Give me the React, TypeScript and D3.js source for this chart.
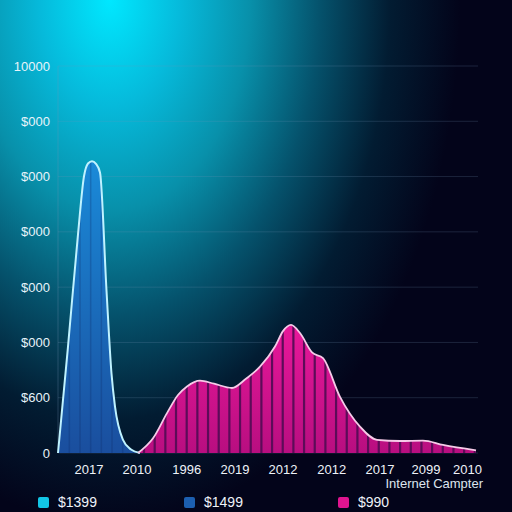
import React from "react";
import * as d3 from "d3";

const W = 512;
const H = 512;

// Series A (blue peak): [x position in axis units, value]
const blueX = [0, 1, 2, 2.6, 3.0, 3.4, 3.8, 4.2, 4.85, 5.35, 5.7, 6.5, 7.3, 8.2];
const blueV = [0, 2750, 5650, 7150, 7480, 7540, 7470, 7250, 4200, 2050, 1200, 340, 90, 0];

// Series B (pink striped area)
const pinkX = [8.0, 9.5, 10.9, 12.0, 12.9, 14.2, 15.6, 17.4, 18.8, 20.2, 21.7, 22.5, 23.3, 24.2, 25.4, 26.5, 28.2, 30.2, 31.9, 34.2, 36.5, 38.5, 41.8];
const pinkV = [0, 380, 1030, 1500, 1720, 1870, 1790, 1680, 1920, 2230, 2750, 3150, 3310, 3100, 2600, 2450, 1450, 680, 340, 310, 320, 210, 70];

// X category labels and their positions in axis units
const xLabels = ["2017", "2010", "1996", "2019", "2012", "2012", "2017", "2099", "2010"];
const xLabelPos = [3.1, 7.9, 12.87, 17.7, 22.5, 27.37, 32.2, 36.8, 40.95];

// Y tick labels (bottom to top)
const yLabels = ["0", "$600", "$000", "$000", "$000", "$000", "$000", "10000"];
const yMax = 10000;

const xAxisTitle = "Internet Campter";

const legendLabels = ["$1399", "$1499", "$990"];
const legendColors = ["#12c6e6", "#1c5fb0", "#e0148f"];

export default function App() {
  const left = 58, right = 478, top = 66, bottom = 453;
  const x = d3.scaleLinear().domain([0, 42]).range([left, right]);
  const y = d3.scaleLinear().domain([0, yMax]).range([bottom, top]);

  const blueData = blueX.map((v, i) => [v, blueV[i]] as [number, number]);
  const pinkData = pinkX.map((v, i) => [v, pinkV[i]] as [number, number]);

  const area = d3
    .area<[number, number]>()
    .x((d) => x(d[0]))
    .y0(y(0))
    .y1((d) => y(d[1]))
    .curve(d3.curveMonotoneX);
  const line = d3
    .line<[number, number]>()
    .x((d) => x(d[0]))
    .y((d) => y(d[1]))
    .curve(d3.curveMonotoneX);

  const yTicks = d3.range(yLabels.length).map((i) => (i * yMax) / (yLabels.length - 1));
  const stripes = d3.range(0.066, 42, 1.067);

  const font = "'Liberation Sans', Arial, sans-serif";

  return (
    <svg
      width={W}
      height={H}
      style={{ position: "absolute", left: 0, top: 0, display: "block" }}
    >
      <defs>
        <radialGradient
          id="bg"
          gradientUnits="userSpaceOnUse"
          cx={110}
          cy={0}
          r={350}
          gradientTransform="translate(110 0) scale(1 1.5) translate(-110 0)"
        >
          <stop offset="0" stopColor="#00e8ff" />
          <stop offset="0.2" stopColor="#06badb" />
          <stop offset="0.4" stopColor="#0890aa" />
          <stop offset="0.6" stopColor="#05526c" />
          <stop offset="0.8" stopColor="#021c32" />
          <stop offset="1" stopColor="#03041a" />
        </radialGradient>
        <linearGradient id="blueFill" x1="0" y1="0" x2="0" y2="1">
          <stop offset="0" stopColor="#1a8ad8" />
          <stop offset="1" stopColor="#1a4e9e" />
        </linearGradient>
        <linearGradient id="pinkFill" x1="0" y1="0" x2="0" y2="1">
          <stop offset="0" stopColor="#e8189a" />
          <stop offset="1" stopColor="#b80e80" />
        </linearGradient>
        <clipPath id="pinkClip">
          <path d={area(pinkData) || ""} />
        </clipPath>
        <clipPath id="blueClip">
          <path d={area(blueData) || ""} />
        </clipPath>
      </defs>
      <rect x={0} y={0} width={W} height={H} fill="url(#bg)" />

      {/* grid */}
      {yTicks.map((t, i) => (
        <line
          key={"g" + i}
          x1={left}
          x2={right}
          y1={y(t)}
          y2={y(t)}
          stroke="rgba(120,150,180,0.22)"
          strokeWidth={1}
        />
      ))}
      <line x1={left} x2={left} y1={top} y2={bottom} stroke="rgba(120,150,180,0.3)" strokeWidth={1} />

      {/* blue area */}
      <path d={area(blueData) || ""} fill="url(#blueFill)" />
      <g clipPath="url(#blueClip)">
        {stripes.map((s, i) => (
          <line key={"bs" + i} x1={x(s)} x2={x(s)} y1={top} y2={bottom} stroke="rgba(10,40,100,0.25)" strokeWidth={1.5} />
        ))}
      </g>
      <path d={line(blueData) || ""} fill="none" stroke="#bff2ff" strokeWidth={2} />

      {/* pink area */}
      <path d={area(pinkData) || ""} fill="url(#pinkFill)" />
      <g clipPath="url(#pinkClip)">
        {stripes.map((s, i) => (
          <line key={"ps" + i} x1={x(s)} x2={x(s)} y1={top} y2={bottom} stroke="#5c0c58" strokeWidth={2.2} />
        ))}
      </g>
      <path d={line(pinkData) || ""} fill="none" stroke="#f6cbe8" strokeWidth={1.8} />

      {/* y labels */}
      {yTicks.map((t, i) => (
        <text
          key={"yl" + i}
          x={50}
          y={y(t)}
          dy="0.35em"
          textAnchor="end"
          fill="#e8f4fa"
          fontSize={13}
          fontFamily={font}
        >
          {yLabels[i]}
        </text>
      ))}

      {/* x labels */}
      {xLabels.map((l, i) => (
        <text
          key={"xl" + i}
          x={x(xLabelPos[i])}
          y={469}
          dy="0.35em"
          textAnchor="middle"
          fill="#eef2f8"
          fontSize={13}
          fontFamily={font}
        >
          {l}
        </text>
      ))}
      <text x={483} y={483} dy="0.35em" textAnchor="end" fill="#dde4ee" fontSize={13} fontFamily={font}>
        {xAxisTitle}
      </text>

      {/* legend */}
      {legendLabels.map((l, i) => {
        const lx = [38, 184, 338][i];
        return (
          <g key={"lg" + i}>
            <rect x={lx} y={497} width={11} height={11} rx={2} fill={legendColors[i]} />
            <text x={lx + 20} y={502.5} dy="0.35em" fill="#eef2f8" fontSize={14} fontFamily={font}>
              {l}
            </text>
          </g>
        );
      })}
    </svg>
  );
}
